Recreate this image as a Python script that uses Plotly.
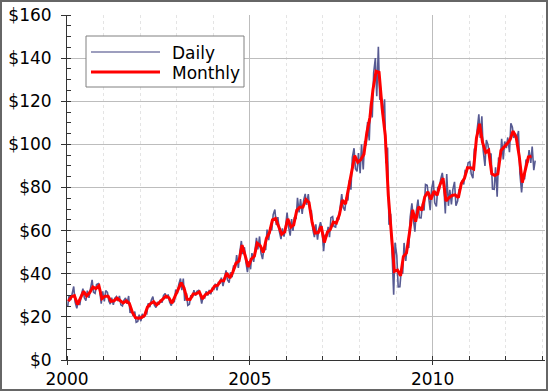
import pandas as pd
import plotly.graph_objects as go

# Monthly average WTI price (USD/bbl), Jan 2000 .. Sep 2012
monthly_avg = [
    27.26, 29.37, 29.84, 25.72, 28.79, 31.82, 29.70, 31.26, 33.88, 33.11, 34.42, 28.44,
    29.59, 29.61, 27.25, 27.49, 28.63, 27.60, 26.43, 27.37, 26.20, 22.17, 19.64, 19.39,
    19.72, 20.72, 24.53, 26.18, 27.04, 25.52, 26.97, 28.39, 29.66, 28.84, 26.35, 29.46,
    32.95, 35.83, 33.51, 28.17, 28.11, 30.66, 30.75, 31.57, 28.31, 30.34, 31.11, 32.13,
    34.31, 34.69, 36.74, 36.75, 40.28, 38.03, 40.78, 44.90, 45.94, 53.28, 48.47, 43.15,
    46.84, 48.15, 54.19, 52.98, 49.83, 56.35, 59.00, 64.99, 65.59, 62.26, 58.32, 59.41,
    65.49, 61.63, 62.69, 69.44, 70.84, 70.95, 74.41, 73.04, 63.80, 58.89, 59.08, 61.96,
    54.51, 59.28, 60.44, 63.98, 63.46, 67.49, 74.12, 72.36, 79.92, 85.80, 94.77, 91.69,
    92.97, 95.39, 105.45, 112.58, 125.40, 133.88, 133.37, 116.67, 104.11, 76.61, 57.31, 41.12,
    41.71, 39.09, 47.94, 49.65, 59.03, 69.64, 64.15, 71.05, 69.41, 75.72, 77.99, 74.47,
    78.33, 76.39, 81.20, 84.29, 73.74, 75.34, 76.32, 76.60, 75.24, 81.89, 84.25, 89.15,
    89.17, 88.58, 102.86, 109.53, 100.90, 96.26, 97.30, 86.33, 85.52, 86.32, 97.16, 98.56,
    100.27, 102.20, 106.16, 103.32, 94.66, 82.30, 87.90, 94.13, 94.51,
]

# Daily closes: monthly low / high, Jan 2000 .. Oct 2012
daily_low = [
    24.8, 27.8, 26.9, 24.0, 25.5, 28.9, 27.5, 28.8, 31.4, 30.9, 32.5, 26.1,
    27.2, 27.4, 25.9, 25.6, 27.3, 25.6, 25.1, 26.0, 21.8, 20.5, 17.5, 17.9,
    18.0, 19.7, 21.5, 24.5, 25.5, 24.3, 25.7, 26.6, 28.5, 26.9, 25.2, 26.8,
    30.8, 32.4, 27.4, 25.3, 25.8, 29.3, 29.8, 30.3, 26.2, 28.8, 29.9, 30.5,
    32.8, 32.3, 35.3, 34.3, 37.2, 35.9, 38.4, 42.6, 42.7, 49.1, 45.5, 40.7,
    42.1, 45.5, 51.3, 49.7, 46.8, 51.1, 55.6, 60.2, 62.6, 59.8, 56.1, 57.2,
    62.0, 57.7, 59.9, 65.4, 68.4, 67.8, 72.0, 69.9, 60.5, 57.0, 55.8, 61.0,
    50.5, 57.3, 57.0, 61.9, 61.6, 65.1, 71.0, 69.3, 74.0, 79.0, 88.7, 87.5,
    86.6, 88.4, 99.5, 101.8, 112.5, 122.3, 121.0, 112.9, 91.2, 62.7, 49.6, 30.3,
    33.9, 34.0, 40.0, 45.9, 52.0, 65.7, 59.5, 66.0, 65.9, 69.3, 75.6, 69.5,
    72.9, 71.2, 78.7, 81.3, 68.0, 71.5, 72.1, 71.6, 73.7, 79.5, 81.4, 87.5,
    86.2, 84.3, 97.2, 103.0, 96.9, 90.0, 94.9, 79.3, 79.2, 75.7, 92.2, 93.0,
    98.3, 96.4, 103.0, 102.5, 86.5, 77.7, 83.8, 91.4, 91.4, 88.0,
]
daily_high = [
    30.0, 30.4, 34.1, 27.4, 30.0, 33.1, 32.2, 33.0, 37.2, 35.0, 35.4, 31.8,
    32.2, 31.4, 28.9, 28.6, 29.4, 29.7, 27.7, 28.8, 29.7, 23.2, 22.5, 21.0,
    21.4, 21.9, 26.3, 27.7, 29.4, 26.9, 27.9, 29.9, 30.8, 30.4, 27.6, 32.7,
    35.0, 37.8, 37.8, 31.0, 30.0, 32.4, 31.9, 32.3, 29.4, 31.8, 32.5, 33.2,
    35.4, 36.2, 38.2, 37.8, 41.6, 40.7, 43.8, 48.7, 49.7, 55.2, 52.3, 45.8,
    49.6, 51.1, 56.7, 57.3, 51.9, 60.5, 61.3, 67.4, 69.8, 66.3, 61.0, 61.3,
    68.4, 65.4, 66.2, 75.2, 74.6, 73.9, 77.0, 76.9, 69.2, 62.9, 61.0, 63.9,
    58.0, 61.8, 66.0, 66.5, 66.0, 70.7, 77.0, 75.3, 83.3, 94.0, 98.2, 96.0,
    100.0, 101.6, 110.3, 119.4, 133.2, 140.0, 145.3, 121.2, 120.9, 98.5, 67.8, 54.4,
    48.6, 41.8, 54.3, 53.0, 66.3, 72.7, 69.0, 74.4, 72.5, 81.4, 81.0, 79.4,
    83.2, 80.3, 83.8, 86.8, 86.2, 78.9, 79.0, 82.6, 79.0, 83.2, 87.8, 91.5,
    91.9, 98.1, 106.7, 113.9, 113.0, 102.0, 99.9, 95.7, 89.4, 93.9, 102.6, 101.3,
    103.2, 109.8, 108.0, 105.0, 106.2, 85.0, 92.9, 97.3, 99.0, 92.5,
]

x_tick_years = ["2000", "2005", "2010"]
y_tick_vals = [0, 20, 40, 60, 80, 100, 120, 140, 160]
y_tick_text = ["$" + str(v) for v in y_tick_vals]

# ---- build series ----
m_months = pd.date_range("2000-01-01", periods=len(monthly_avg), freq="MS")
m_x = [d + pd.Timedelta(days=14) for d in m_months]

d_months = pd.date_range("2000-01-01", periods=len(daily_low), freq="MS")
d_x, d_y = [], []
for i, d in enumerate(d_months):
    lo, hi = daily_low[i], daily_high[i]
    nxt = monthly_avg[i + 1] if i + 1 < len(monthly_avg) else monthly_avg[-1]
    cur = monthly_avg[i] if i < len(monthly_avg) else monthly_avg[-1]
    first, second = (lo, hi) if nxt >= cur else (hi, lo)
    d_x += [d + pd.Timedelta(days=7), d + pd.Timedelta(days=21)]
    d_y += [first, second]

W, H = 548, 391
L, R, T, B = 67, 3, 15, 31
PW, PH = W - L - R, H - T - B


def px(x):
    return (x - L) / PW


def py(y):
    return (H - B - y) / PH


DAILY_COLOR = "#575a92"
FONT = "DejaVu Sans"

fig = go.Figure()
fig.add_trace(go.Scatter(x=d_x, y=d_y, mode="lines", name="Daily",
                         line=dict(color=DAILY_COLOR, width=1.6), showlegend=False))
fig.add_trace(go.Scatter(x=m_x, y=monthly_avg, mode="lines", name="Monthly",
                         line=dict(color="#ff0000", width=3), showlegend=False))

fig.update_layout(
    width=W, height=H,
    margin=dict(l=L, r=R, t=T, b=B),
    paper_bgcolor="white", plot_bgcolor="white",
    font=dict(family=FONT, size=17, color="black"),
    xaxis=dict(
        type="date",
        range=["2000-01-01", "2013-01-28"],
        tickvals=[pd.Timestamp(y + "-01-01") for y in x_tick_years],
        ticktext=x_tick_years,
        showgrid=True, gridcolor="#bdbdbd", gridwidth=1,
        showline=True, linecolor="#333333", linewidth=1,
        ticks="outside", ticklen=4, tickcolor="#333333",
        tickfont=dict(family=FONT, size=17),
        minor=dict(dtick="M12", tick0="2000-01-01", showgrid=True,
                   gridcolor="#e4e4e4", griddash="dot", ticks="inside",
                   ticklen=4, tickcolor="#333333"),
        zeroline=False, fixedrange=True,
    ),
    yaxis=dict(
        range=[0, 160],
        tickvals=y_tick_vals, ticktext=y_tick_text,
        showgrid=True, gridcolor="#bdbdbd", gridwidth=1,
        showline=True, linecolor="#333333", linewidth=1,
        ticks="outside", ticklen=5, tickcolor="#333333",
        ticklabelstandoff=6,
        tickfont=dict(family=FONT, size=17),
        minor=dict(dtick=5, tick0=0, ticks="inside", ticklen=4,
                   tickcolor="#333333", showgrid=False),
        zeroline=False, fixedrange=True,
    ),
    showlegend=False,
)

shapes = [
    # outer frame
    dict(type="rect", xref="paper", yref="paper",
         x0=px(1), x1=px(547), y0=py(1), y1=py(390),
         line=dict(color="#666666", width=2), fillcolor="rgba(0,0,0,0)", layer="above"),
    # legend box
    dict(type="rect", xref="paper", yref="paper",
         x0=px(86), x1=px(244), y0=py(36), y1=py(87),
         line=dict(color="#808080", width=1), fillcolor="white", layer="above"),
    dict(type="line", xref="paper", yref="paper",
         x0=px(91), x1=px(160), y0=py(52), y1=py(52),
         line=dict(color="#7c7ea8", width=1.3), layer="above"),
    dict(type="line", xref="paper", yref="paper",
         x0=px(91), x1=px(160), y0=py(72), y1=py(72),
         line=dict(color="#ff0000", width=3), layer="above"),
]
fig.update_layout(shapes=shapes)

fig.add_annotation(x=px(170), y=py(53), xref="paper", yref="paper",
                   text="Daily", showarrow=False, xanchor="left", yanchor="middle",
                   font=dict(family=FONT, size=17, color="black"))
fig.add_annotation(x=px(170), y=py(73), xref="paper", yref="paper",
                   text="Monthly", showarrow=False, xanchor="left", yanchor="middle",
                   font=dict(family=FONT, size=17, color="black"))

fig.write_html("out.html")
